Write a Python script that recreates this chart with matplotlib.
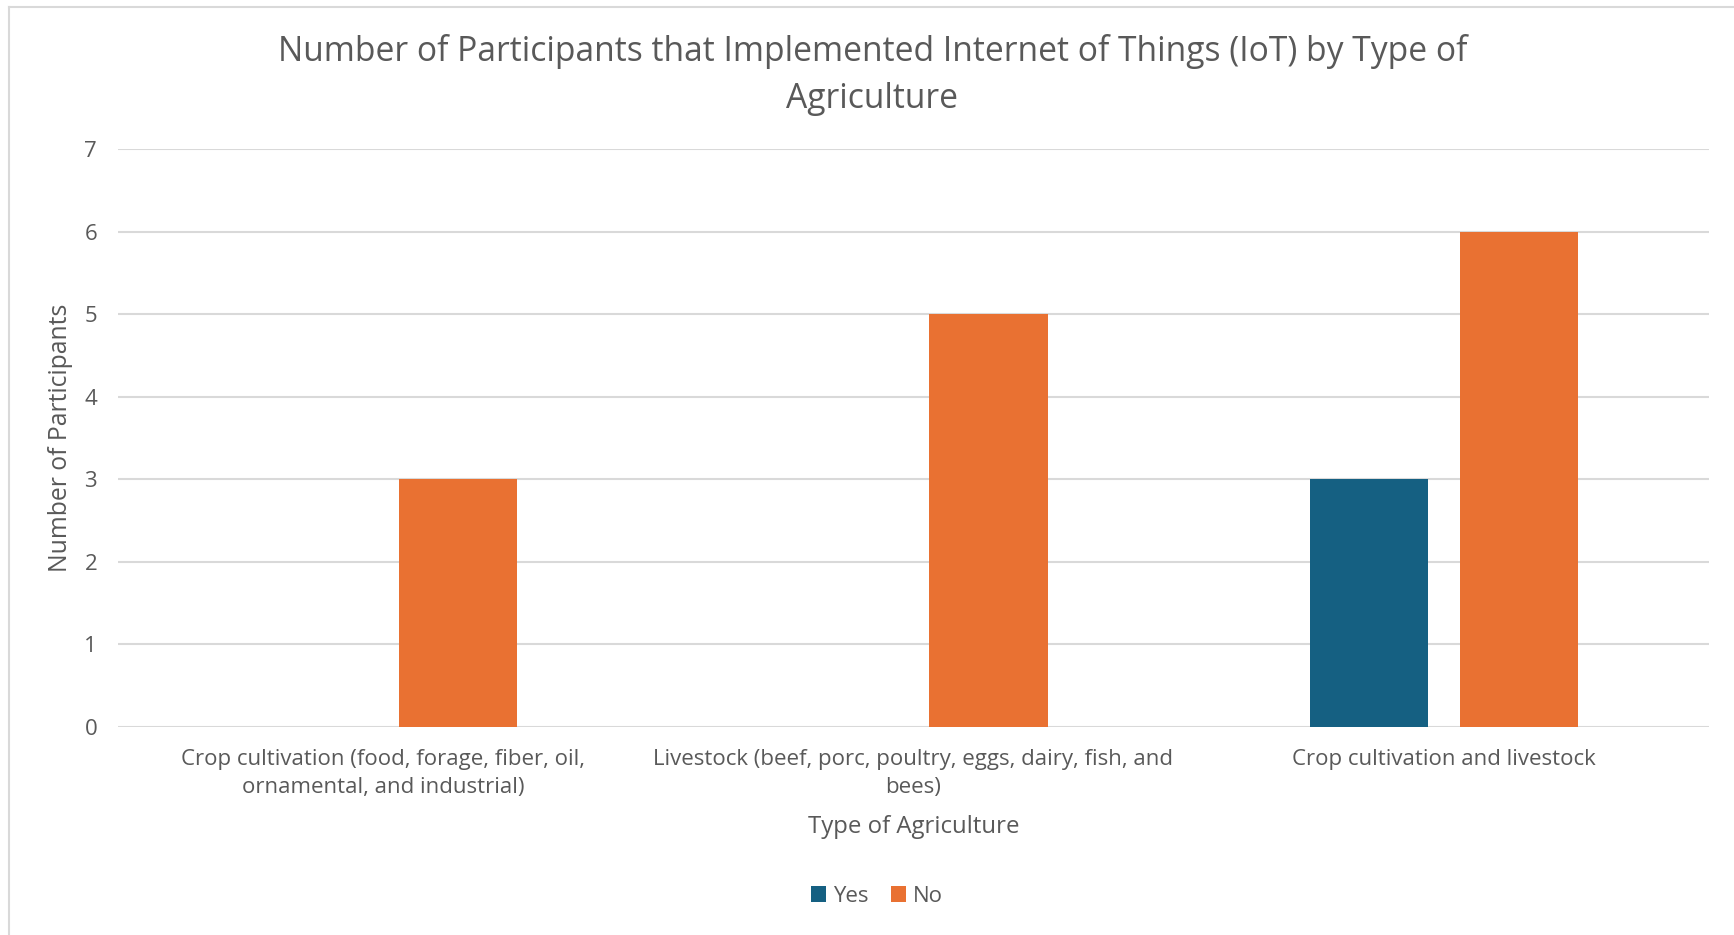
import matplotlib
matplotlib.use("Agg")
import matplotlib.pyplot as plt
from matplotlib.lines import Line2D
import numpy as np

categories = ["Crop cultivation (food, forage, fiber, oil,\nornamental, and industrial)",
              "Livestock (beef, porc, poultry, eggs, dairy, fish, and\nbees)",
              "Crop cultivation and livestock"]
yes_values = [0, 0, 3]
no_values = [3, 5, 6]
series_names = ["Yes", "No"]
y_ticks = [0, 1, 2, 3, 4, 5, 6, 7]

title = "Number of Participants that Implemented Internet of Things (IoT) by Type of\nAgriculture"
xlabel = "Type of Agriculture"
ylabel = "Number of Participants"

plt.rcParams['font.family'] = ['Open Sans', 'DejaVu Sans']
TXT = "#595959"
GRID = "#D9D9D9"
C_YES = "#156082"
C_NO = "#E97132"

W, H = 1734, 935
fig = plt.figure(figsize=(W/100, H/100), dpi=100)
ax = fig.add_axes([118/W, 1-727/H, (1709-118)/W, (727-149)/H])

x = np.arange(len(categories))
bw = 0.223
gap = 0.06
off = (bw + gap) / 2
ax.bar(x - off, yes_values, bw, color=C_YES, label=series_names[0], zorder=3)
ax.bar(x + off, no_values, bw, color=C_NO, label=series_names[1], zorder=3)

ax.set_xlim(-0.5, len(categories) - 0.5)
ax.set_ylim(0, 7)
ax.set_yticks(y_ticks)
ax.set_xticks(x)
ax.set_xticklabels(categories, fontsize=16, color=TXT, linespacing=1.45)
ax.tick_params(axis='y', labelsize=16, labelcolor=TXT, length=0, pad=15)
ax.tick_params(axis='x', length=0, pad=16)
ax.grid(axis='y', color=GRID, linewidth=1.5, zorder=0)
for s in ax.spines.values():
    s.set_visible(False)

ax.set_xlabel(xlabel, fontsize=17.3, color=TXT, labelpad=12)
ax.set_ylabel(ylabel, fontsize=17.8, color=TXT, labelpad=8)

fig.text(0.503, 1-75/H, title, ha='center', va='center', fontsize=24.2, color=TXT, linespacing=1.5)

leg = fig.legend(loc='center', bbox_to_anchor=(877/W, 1-896/H), ncol=2, frameon=False,
                 fontsize=16, handlelength=0.7, handleheight=0.7, handletextpad=0.3,
                 columnspacing=1.0)
for t in leg.get_texts():
    t.set_color(TXT)

fig.add_artist(Line2D([9/W, 9/W], [0, 1-7/H], color=GRID, linewidth=1.5))
fig.add_artist(Line2D([9/W, 1], [1-7/H, 1-7/H], color=GRID, linewidth=1.5))

fig.savefig("out.png", dpi=100, facecolor='white')
